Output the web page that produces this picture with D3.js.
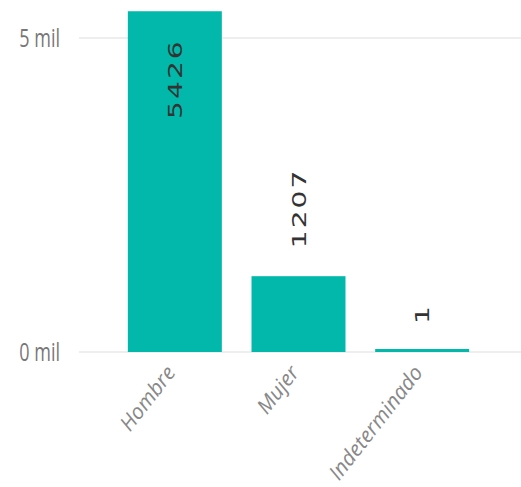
<!DOCTYPE html>
<html><head><meta charset="utf-8">
<script src="https://cdn.jsdelivr.net/npm/d3@7"></script>
<style>body{margin:0;background:#fff}svg{display:block}</style>
</head><body>
<script>
const categories = ["Hombre", "Mujer", "Indeterminado"];
const values = [5426, 1207, 1];
const tickValues = [0, 5000];
const tickLabels = ["0 mil", "5 mil"];

const W = 521, H = 487;
const svg = d3.select("body").append("svg").attr("width", W).attr("height", H);

const y = d3.scaleLinear().domain([0, 5000]).range([352, 38]);
const x = d3.scaleBand().domain(categories).range([113, 484]).paddingInner(0.24).paddingOuter(0.12);

// gridlines
svg.append("g").selectAll("line").data(tickValues).join("line")
  .attr("x1", 79).attr("x2", W).attr("y1", d => y(d)).attr("y2", d => y(d))
  .attr("stroke", "#e8e8e8").attr("stroke-width", 1.5);

// y labels
svg.append("g").selectAll("text").data(tickValues).join("text")
  .attr("transform", d => `translate(60,${y(d)}) scale(0.72,1)`)
  .attr("dy", "0.35em")
  .attr("text-anchor", "end")
  .attr("font-family", "'Open Sans',sans-serif")
  .attr("font-size", 25).attr("fill", "#777")
  .text((d, i) => tickLabels[i]);

// bars
svg.append("g").selectAll("rect").data(values).join("rect")
  .attr("x", (d, i) => x(categories[i])).attr("width", x.bandwidth())
  .attr("y", d => Math.min(y(d), y(0) - 3))
  .attr("height", d => Math.max(3, y(0) - y(d)))
  .attr("fill", "#01B8AA");

// data labels
const labelGap = 28;
svg.append("g").selectAll("text").data(values).join("text")
  .attr("transform", (d, i) => {
    const cx = x(categories[i]) + x.bandwidth() / 2;
    const inside = (y(0) - y(d)) > 100;
    const ty = inside ? y(d) + labelGap : y(d) - labelGap;
    return `translate(${cx},${ty}) rotate(-90) scale(1.4,1)`;
  })
  .attr("text-anchor", d => (y(0) - y(d)) > 100 ? "end" : "start")
  .attr("dy", "0.36em")
  .attr("font-family", "'DejaVu Sans',sans-serif")
  .attr("font-size", 20).attr("letter-spacing", 1.5).attr("fill", "#333")
  .text(d => d);

// x labels
svg.append("g").selectAll("text").data(categories).join("text")
  .attr("transform", d => `translate(${x(d) + x.bandwidth() / 2 - 10},${364}) rotate(-52)`)
  .attr("text-anchor", "end")
  .attr("dy", "0.7em")
  .attr("font-family", "'Open Sans',sans-serif")
  .attr("font-style", "italic")
  .attr("font-size", 21).attr("fill", "#888")
  .text(d => d);
</script>
</body></html>
